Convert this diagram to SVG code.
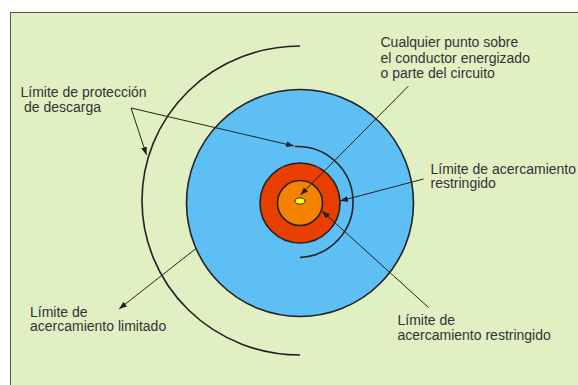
<svg xmlns="http://www.w3.org/2000/svg" width="578" height="385" viewBox="0 0 578 385">
<defs>
<style>
.lbl{font-family:"Liberation Sans",Arial,sans-serif;font-size:14px;fill:#333333}
.ring{stroke:#222222;stroke-width:1.6}
.lead{fill:none;stroke:#222222;stroke-width:1}
.arc{fill:none;stroke:#222222;stroke-width:1.6}
</style>
<marker id="ah" markerUnits="userSpaceOnUse" markerWidth="10" markerHeight="8" refX="8" refY="3" orient="auto">
<path d="M0,0 L8,3 L0,6 Z" fill="#222222"/>
</marker>
</defs>
<rect x="0" y="0" width="578" height="385" fill="#ffffff"/>
<rect id="frame" x="10.5" y="12.5" width="600" height="400" fill="#e0f0c2" stroke="#555555" stroke-width="1"/>
<g id="outer-arc"><path class="arc" d="M300,46 A158,154.5 0 0 0 300,355"/></g>
<g id="blue-zone"><circle class="ring" cx="300" cy="203" r="113.5" fill="#5ebff4"/></g>
<g id="inner-arc"><path class="arc" d="M295,146.5 A55.5,55.5 0 0 1 300,257.5"/></g>
<g id="red-zone"><circle class="ring" cx="300" cy="203" r="40" fill="#e83e00"/></g>
<g id="orange-zone"><circle class="ring" cx="300" cy="203" r="22.5" fill="#f58200"/></g>
<g id="point"><ellipse cx="300" cy="201" rx="5" ry="3.2" fill="#ffff00" stroke="#222222" stroke-width="1"/></g>
<g id="connectors">
<path class="lead" d="M131,108 L146.5,155" marker-end="url(#ah)"/>
<path class="lead" d="M131,108 L294,146" marker-end="url(#ah)"/>
<path class="lead" d="M408.5,86 L300.5,195" marker-end="url(#ah)"/>
<path class="lead" d="M423.5,179 L340,201" marker-end="url(#ah)"/>
<path class="lead" d="M428.5,307.5 L322,211" marker-end="url(#ah)"/>
<path class="lead" d="M196,248.5 L119,309" marker-end="url(#ah)"/>
</g>
<g id="label-descarga">
<text class="lbl" x="20.5" y="97">Límite de protección</text>
<text class="lbl" x="24" y="112">de descarga</text>
</g>
<g id="label-punto">
<text class="lbl" x="380.5" y="47">Cualquier punto sobre</text>
<text class="lbl" x="380.5" y="62.5">el conductor energizado</text>
<text class="lbl" x="380.5" y="77.5">o parte del circuito</text>
</g>
<g id="label-restringido-1">
<text class="lbl" x="430.5" y="173.5">Límite de acercamiento</text>
<text class="lbl" x="430.5" y="188">restringido</text>
</g>
<g id="label-restringido-2">
<text class="lbl" x="397.5" y="324.5">Límite de</text>
<text class="lbl" x="397.5" y="339.5">acercamiento restringido</text>
</g>
<g id="label-limitado">
<text class="lbl" x="30" y="316.5">Límite de</text>
<text class="lbl" x="30" y="331">acercamiento limitado</text>
</g>
</svg>
